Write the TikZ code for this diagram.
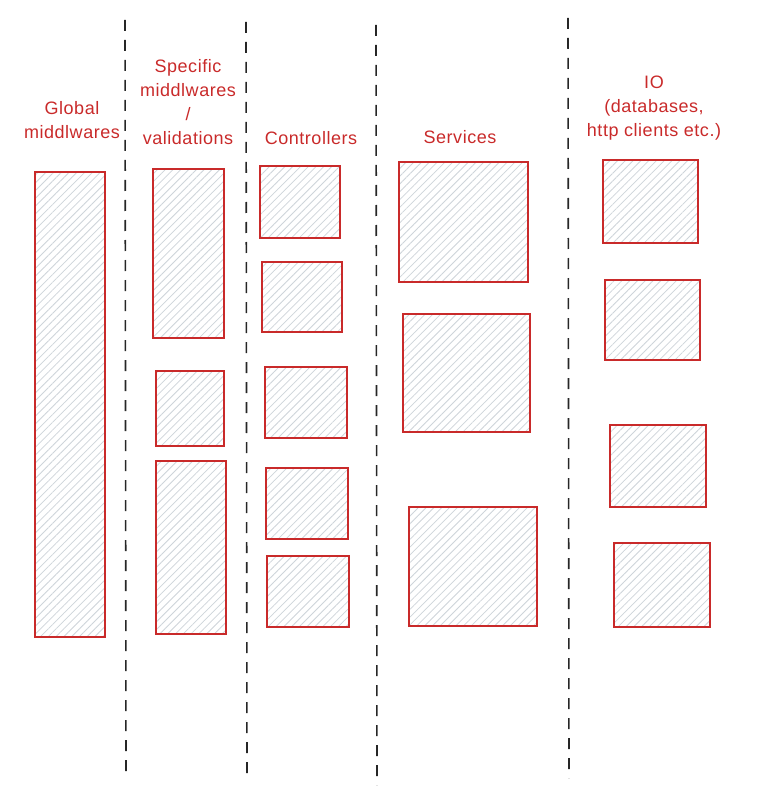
\documentclass[tikz,border=0pt]{standalone}
\usepackage{fontspec}
\setmainfont{Liberation Sans}[LetterSpace=3]
\usetikzlibrary{patterns.meta}
\definecolor{exred}{HTML}{C92A2A}
\definecolor{hatch}{HTML}{CED4DA}
\begin{document}
\begin{tikzpicture}[x=1pt,y=-1pt,
  sep/.style={draw=black!85, line width=1.6pt, dash pattern=on 11pt off 9pt},
  blk/.style={draw=exred, line width=1.3pt,
    preaction={fill=white},
    preaction={pattern={Lines[angle=45,distance=5.5pt,line width=0.8pt]}, pattern color=hatch}},
  lbl/.style={text=exred, font=\fontsize{18}{24}\selectfont, align=center, inner sep=0pt}]
\useasboundingbox (0,0) rectangle (756,786);
% separators
\coordinate (s1a) at (125,20); \coordinate (s1b) at (126,772);
\coordinate (s2a) at (246,22); \coordinate (s2b) at (247,775);
\coordinate (s3a) at (376,25); \coordinate (s3b) at (377,785);
\coordinate (s4a) at (568,18); \coordinate (s4b) at (569,778);
\draw[sep] (s1a) -- (s1b);
\draw[sep] (s2a) -- (s2b);
\draw[sep] (s3a) -- (s3b);
\draw[sep] (s4a) -- (s4b);
% labels
\node[lbl] (lg) at (72,120) {Global\\middlwares};
\node[lbl] (ls) at (188,102) {Specific\\middlwares\\/\\validations};
\node[lbl] (lc) at (311,138) {Controllers};
\node[lbl] (lsv) at (460,137) {Services};
\node[lbl] (lio) at (654,108) {IO\\(databases,\\http clients etc.)};
% global
\path[blk] (35,172) rectangle (105,637);
% specific
\path[blk] (153,169) rectangle (224,338);
\path[blk] (156,371) rectangle (224,446);
\path[blk] (156,461) rectangle (226,634);
% controllers
\path[blk] (260,166) rectangle (340,238);
\path[blk] (262,262) rectangle (342,332);
\path[blk] (265,367) rectangle (347,438);
\path[blk] (266,468) rectangle (348,539);
\path[blk] (267,556) rectangle (349,627);
% services
\path[blk] (399,162) rectangle (528,282);
\path[blk] (403,314) rectangle (530,432);
\path[blk] (409,507) rectangle (537,626);
% io
\path[blk] (603,160) rectangle (698,243);
\path[blk] (605,280) rectangle (700,360);
\path[blk] (610,425) rectangle (706,507);
\path[blk] (614,543) rectangle (710,627);
\end{tikzpicture}
\end{document}
